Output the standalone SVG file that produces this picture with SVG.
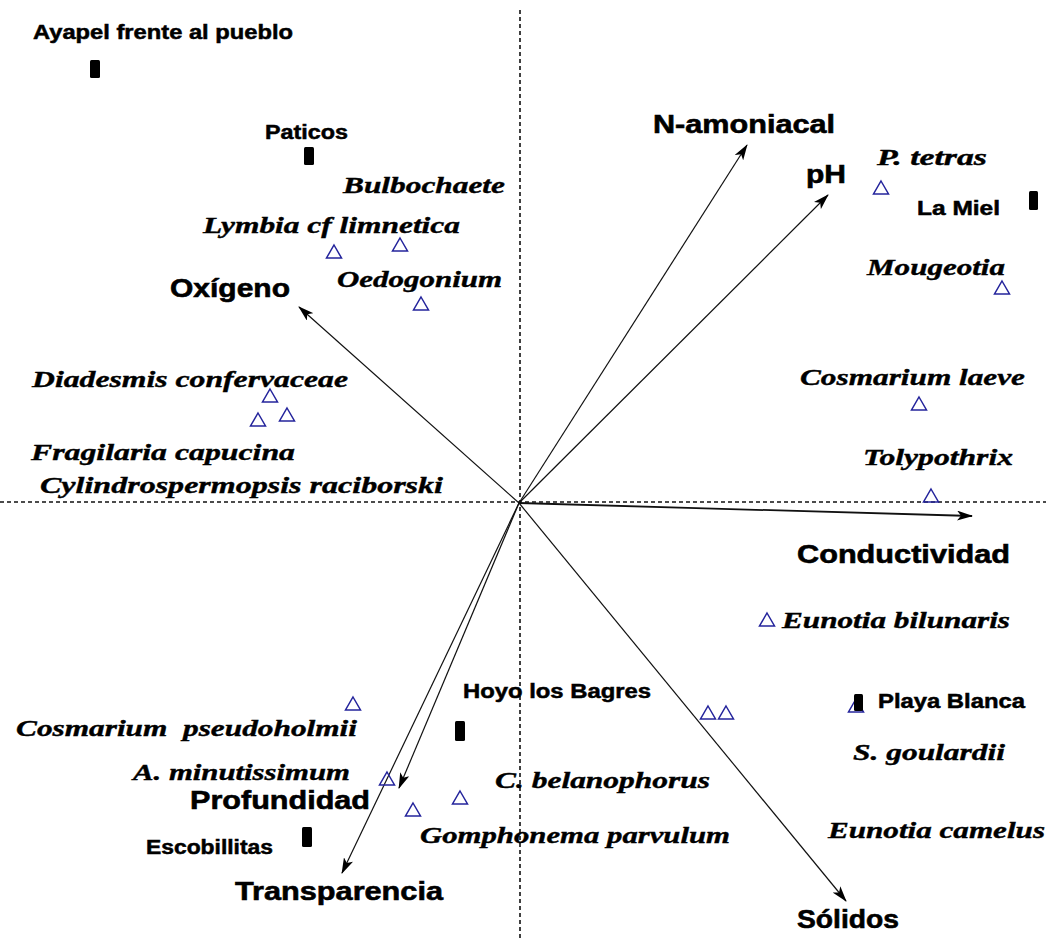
<svg xmlns="http://www.w3.org/2000/svg" xmlns:xlink="http://www.w3.org/1999/xlink" width="1046" height="940" viewBox="0 0 1046 940">
<style>
.site{font-family:"Liberation Sans",Arial,sans-serif;font-weight:bold;font-size:20px;fill:#000;stroke:#000;stroke-width:0.5}
.var{font-family:"Liberation Sans",Arial,sans-serif;font-weight:bold;font-size:26px;fill:#000;stroke:#000;stroke-width:0.6}
.sp{font-family:"Liberation Serif","Times New Roman",serif;font-weight:bold;font-style:italic;font-size:24px;fill:#000;stroke:#000;stroke-width:0.4}
.axis{stroke:#111;stroke-width:1.6;stroke-dasharray:4 3;fill:none}
.vec{stroke:#111;stroke-width:1.2;fill:none;marker-end:url(#ah)}
.tri{fill:none;stroke:#24249c;stroke-width:1.5}
.mk{fill:#000}
</style>
<defs>
<marker id="ah" viewBox="0 0 16 10" refX="15" refY="5" markerWidth="16" markerHeight="10" markerUnits="userSpaceOnUse" orient="auto">
<path d="M0,0 L16,5 L0,10 L4,5 Z" fill="#000"/>
</marker>
<path id="t" d="M0,-7 L7.5,6 L-7.5,6 Z"/>
</defs>
<rect width="1046" height="940" fill="#fff"/>
<g id="axes">
<line class="axis" x1="520" y1="10" x2="520" y2="940"/>
<line class="axis" x1="0" y1="502" x2="1046" y2="502"/>
</g>
<g id="connectors">
<line class="vec" x1="519" y1="503" x2="747" y2="145"/>
<line class="vec" x1="519" y1="503" x2="828" y2="195"/>
<line class="vec" x1="519" y1="503" x2="299" y2="307"/>
<line class="vec" x1="519" y1="503" x2="972" y2="516" style="stroke-width:1.8"/>
<line class="vec" x1="519" y1="503" x2="846" y2="901"/>
<line class="vec" x1="519" y1="503" x2="399" y2="788"/>
<line class="vec" x1="519" y1="503" x2="342" y2="873"/>
</g>
<g id="var-N-amoniacal"><text class="var" x="653" y="133" textLength="182" lengthAdjust="spacingAndGlyphs">N-amoniacal</text></g>
<g id="var-pH"><text class="var" x="806" y="183" textLength="40" lengthAdjust="spacingAndGlyphs">pH</text></g>
<g id="var-Oxigeno"><text class="var" x="170" y="297" textLength="120" lengthAdjust="spacingAndGlyphs">Oxígeno</text></g>
<g id="var-Conductividad"><text class="var" x="797" y="563" textLength="213" lengthAdjust="spacingAndGlyphs">Conductividad</text></g>
<g id="var-Solidos"><text class="var" x="797" y="928" textLength="102" lengthAdjust="spacingAndGlyphs">Sólidos</text></g>
<g id="var-Profundidad"><text class="var" x="190" y="809" textLength="180" lengthAdjust="spacingAndGlyphs">Profundidad</text></g>
<g id="var-Transparencia"><text class="var" x="235" y="900" textLength="208" lengthAdjust="spacingAndGlyphs">Transparencia</text></g>

<g id="site-Ayapel"><text class="site" x="33" y="39" textLength="260" lengthAdjust="spacingAndGlyphs">Ayapel frente al pueblo</text><rect class="mk" x="90" y="60" width="10" height="18" rx="1.5"/></g>
<g id="site-Paticos"><text class="site" x="265" y="139" textLength="83" lengthAdjust="spacingAndGlyphs">Paticos</text><rect class="mk" x="304" y="147" width="10" height="18" rx="1.5"/></g>
<g id="site-LaMiel"><text class="site" x="917" y="215" textLength="83" lengthAdjust="spacingAndGlyphs">La Miel</text><rect class="mk" x="1029" y="191" width="9" height="19" rx="1.5"/></g>
<g id="site-Hoyo"><text class="site" x="463" y="698" textLength="188" lengthAdjust="spacingAndGlyphs">Hoyo los Bagres</text><rect class="mk" x="455" y="721" width="10" height="20" rx="1.5"/></g>
<g id="site-PlayaBlanca"><use href="#t" class="tri" x="856" y="706"/><text class="site" x="878" y="708" textLength="147" lengthAdjust="spacingAndGlyphs">Playa Blanca</text><rect class="mk" x="854" y="694" width="9" height="17" rx="1.5"/></g>
<g id="site-Escobillitas"><text class="site" x="146" y="854" textLength="127" lengthAdjust="spacingAndGlyphs">Escobillitas</text><rect class="mk" x="302" y="827" width="10" height="20" rx="1.5"/></g>

<g id="sp-Bulbochaete"><text class="sp" x="343" y="193" textLength="162" lengthAdjust="spacingAndGlyphs">Bulbochaete</text></g>
<g id="sp-Lymbia"><text class="sp" x="203" y="233" textLength="257" lengthAdjust="spacingAndGlyphs">Lymbia cf limnetica</text><use href="#t" class="tri" x="334" y="252"/><use href="#t" class="tri" x="400" y="245"/></g>
<g id="sp-Oedogonium"><text class="sp" x="337" y="287" textLength="165" lengthAdjust="spacingAndGlyphs">Oedogonium</text><use href="#t" class="tri" x="421" y="304"/></g>
<g id="sp-Diadesmis"><text class="sp" x="32" y="387" textLength="316" lengthAdjust="spacingAndGlyphs">Diadesmis confervaceae</text><use href="#t" class="tri" x="270" y="396"/></g>
<g id="sp-Fragilaria"><text class="sp" x="31" y="460" textLength="264" lengthAdjust="spacingAndGlyphs">Fragilaria capucina</text><use href="#t" class="tri" x="258" y="420"/></g>
<g id="sp-Cylindrospermopsis"><text class="sp" x="40" y="493" textLength="403" lengthAdjust="spacingAndGlyphs">Cylindrospermopsis raciborski</text><use href="#t" class="tri" x="287" y="415"/></g>
<g id="sp-Ptetras"><text class="sp" x="877" y="165" textLength="110" lengthAdjust="spacingAndGlyphs">P. tetras</text><use href="#t" class="tri" x="881" y="188"/></g>
<g id="sp-Mougeotia"><text class="sp" x="867" y="275" textLength="138" lengthAdjust="spacingAndGlyphs">Mougeotia</text><use href="#t" class="tri" x="1002" y="288"/></g>
<g id="sp-Cosmariumlaeve"><text class="sp" x="800" y="385" textLength="225" lengthAdjust="spacingAndGlyphs">Cosmarium laeve</text><use href="#t" class="tri" x="919" y="404"/></g>
<g id="sp-Tolypothrix"><text class="sp" x="863" y="465" textLength="150" lengthAdjust="spacingAndGlyphs">Tolypothrix</text><use href="#t" class="tri" x="931" y="496"/></g>
<g id="sp-Eunotiabilunaris"><use href="#t" class="tri" x="767" y="620"/><text class="sp" x="782" y="628" textLength="228" lengthAdjust="spacingAndGlyphs">Eunotia bilunaris</text></g>
<g id="sp-pair"><use href="#t" class="tri" x="708" y="713"/><use href="#t" class="tri" x="726" y="713"/></g>
<g id="sp-Sgoulardii"><text class="sp" x="853" y="760" textLength="152" lengthAdjust="spacingAndGlyphs">S. goulardii</text></g>
<g id="sp-Eunotiacamelus"><text class="sp" x="828" y="838" textLength="217" lengthAdjust="spacingAndGlyphs">Eunotia camelus</text></g>
<g id="sp-Cbelanophorus"><text class="sp" x="495" y="788" textLength="215" lengthAdjust="spacingAndGlyphs">C. belanophorus</text><use href="#t" class="tri" x="460" y="798"/></g>
<g id="sp-Gomphonema"><text class="sp" x="420" y="843" textLength="310" lengthAdjust="spacingAndGlyphs">Gomphonema parvulum</text><use href="#t" class="tri" x="413" y="810"/></g>
<g id="sp-Cosmariumpseudo"><text class="sp" x="16" y="736" textLength="341" lengthAdjust="spacingAndGlyphs" xml:space="preserve">Cosmarium  pseudoholmii</text><use href="#t" class="tri" x="353" y="704"/></g>
<g id="sp-Aminutissimum"><text class="sp" x="133" y="780" textLength="217" lengthAdjust="spacingAndGlyphs">A. minutissimum</text><use href="#t" class="tri" x="387" y="779"/></g>
</svg>
